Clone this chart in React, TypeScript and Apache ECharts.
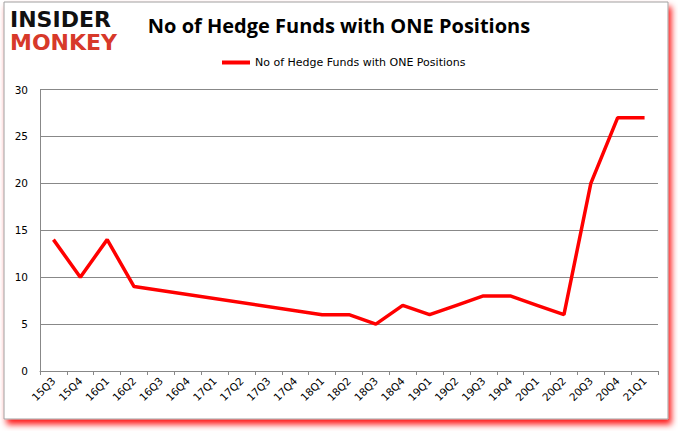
import React, { useEffect, useRef } from "react";
import * as echarts from "echarts";

const categories = ["15Q3","15Q4","16Q1","16Q2","16Q3","16Q4","17Q1","17Q2","17Q3","17Q4","18Q1","18Q2","18Q3","18Q4","19Q1","19Q2","19Q3","19Q4","20Q1","20Q2","20Q3","20Q4","21Q1"];
const hedgeFunds: (number | null)[] = [14,10,14,9,null,null,null,null,null,null,6,6,5,7,6,7,8,8,7,6,20,27,27];
const seriesName = "No of Hedge Funds with ONE Positions";
const titleText = "No of Hedge Funds with ONE Positions";

export default function App() {
  const ref = useRef<HTMLDivElement>(null);
  useEffect(() => {
    document.body.style.margin = "0";
    const chart = echarts.init(ref.current!, undefined, { renderer: "svg" });
    chart.setOption({
      animation: false,
      backgroundColor: "#ffffff",
      graphic: [
        {
          type: "rect", z: -10, silent: true,
          shape: { x: 4, y: 2, width: 664, height: 417 },
          style: { fill: "#ffffff", stroke: "#a0a0a0", lineWidth: 1, shadowBlur: 6, shadowOffsetX: 3, shadowOffsetY: 5, shadowColor: "rgba(255,0,0,0.9)" },
        },
        { type: "text", x: 10, y: 19, style: { text: "INSIDER", fill: "#111111", font: "900 22px 'DejaVu Sans'", verticalAlign: "middle", lineHeight: 22 } },
        { type: "text", x: 10, y: 42, style: { text: "MONKEY", fill: "#d7392a", font: "900 22px 'DejaVu Sans'", verticalAlign: "middle", lineHeight: 22 } },
        { type: "text", left: "center", top: 15, style: { text: titleText, fill: "#000000", font: "bold 20px 'Open Sans'" } },
      ],
      legend: {
        top: 52, left: 217,
        itemWidth: 28, itemHeight: 4,
        icon: "rect",
        textStyle: { fontSize: 11, fontFamily: "DejaVu Sans", color: "#000" },
        data: [seriesName],
      },
      grid: { left: 40, right: 20, top: 89.5, bottom: 60, containLabel: false },
      xAxis: {
        type: "category",
        data: categories,
        boundaryGap: true,
        axisLine: { lineStyle: { color: "#888888", width: 1 } },
        axisTick: { show: true, alignWithLabel: false, length: 4, lineStyle: { color: "#888888" } },
        axisLabel: { rotate: 45, fontSize: 10.5, fontFamily: "DejaVu Sans", color: "#000", margin: 8, interval: 0 },
      },
      yAxis: {
        type: "value",
        min: 0, max: 30, interval: 5,
        axisLine: { show: true, lineStyle: { color: "#888888" } },
        axisTick: { show: false },
        splitLine: { lineStyle: { color: "#888888", width: 1 } },
        axisLabel: { fontSize: 10.5, fontFamily: "DejaVu Sans", color: "#000", margin: 12 },
      },
      series: [
        {
          name: seriesName,
          type: "line",
          data: hedgeFunds,
          connectNulls: true,
          showSymbol: false,
          symbol: "none",
          lineStyle: { color: "#ff0000", width: 3.5 },
          itemStyle: { color: "#ff0000" },
        },
      ],
    });
    return () => chart.dispose();
  }, []);
  return <div ref={ref} style={{ width: 678, height: 431 }} />;
}
